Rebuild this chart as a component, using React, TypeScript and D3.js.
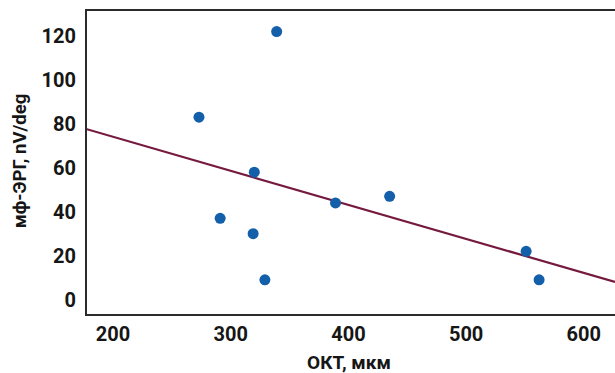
import React from "react";
import * as d3 from "d3";

const octValues = [273, 339, 320, 291, 319, 329, 389, 435, 551, 562];
const ergValues = [83, 122, 58, 37, 30, 9, 44, 47, 22, 9];
const xTicks = [200, 300, 400, 500, 600];
const yTicks = [0, 20, 40, 60, 80, 100, 120];
const xTitle = "ОКТ, мкм";
const yTitle = "мф-ЭРГ, nV/deg";

const W = 615;
const H = 373;
const left = 86;
const top = 10;
const bottom = 315;
const right = 615;

export default function App() {
  const x = d3.scaleLinear().domain([177, 626.5]).range([left, right]);
  const y = d3.scaleLinear().domain([-7, 131.8]).range([bottom, top]);

  const mx = d3.mean(octValues)!;
  const my = d3.mean(ergValues)!;
  let sxy = 0;
  let sxx = 0;
  octValues.forEach((v, i) => {
    sxy += (v - mx) * (ergValues[i] - my);
    sxx += (v - mx) * (v - mx);
  });
  const slope = sxy / sxx;
  const intercept = my - slope * mx;
  const [d0, d1] = x.domain();
  const line = d3
    .line<number>()
    .x((d) => x(d))
    .y((d) => y(intercept + slope * d));

  const font = "Roboto, 'DejaVu Sans', sans-serif";

  return (
    <svg
      width={W}
      height={H}
      style={{ position: "absolute", left: 0, top: 0, background: "#fff" }}
      fontFamily={font}
    >
      <defs>
        <clipPath id="plot">
          <rect x={left} y={top} width={right - left} height={bottom - top} />
        </clipPath>
      </defs>
      <g clipPath="url(#plot)">
        <path d={line([d0, d1]) || ""} fill="none" stroke="#751a3e" strokeWidth={2.2} />
        {octValues.map((v, i) => (
          <circle key={i} cx={x(v)} cy={y(ergValues[i])} r={5.5} fill="#135fa9" />
        ))}
      </g>
      <path
        d={`M${right},${top}H${left}V${bottom}H${right}`}
        fill="none"
        stroke="#2b2b2b"
        strokeWidth={2}
      />
      {yTicks.map((t) => (
        <text
          key={t}
          x={76}
          y={y(t)}
          textAnchor="end"
          dominantBaseline="central"
          fontSize={20}
          fontWeight={700}
          fill="#161616"
        >
          {t}
        </text>
      ))}
      {xTicks.map((t) => (
        <text
          key={t}
          x={x(t)}
          y={334}
          textAnchor="middle"
          dominantBaseline="central"
          fontSize={20}
          fontWeight={700}
          fill="#161616"
        >
          {t}
        </text>
      ))}
      <text
        x={349}
        y={362}
        textAnchor="middle"
        dominantBaseline="central"
        fontSize={19}
        fontWeight={700}
        fill="#161616"
      >
        {xTitle}
      </text>
      <text
        transform={`translate(20,161) rotate(-90)`}
        textAnchor="middle"
        dominantBaseline="central"
        fontSize={18.5}
        fontWeight={700}
        fill="#161616"
      >
        {yTitle}
      </text>
    </svg>
  );
}
